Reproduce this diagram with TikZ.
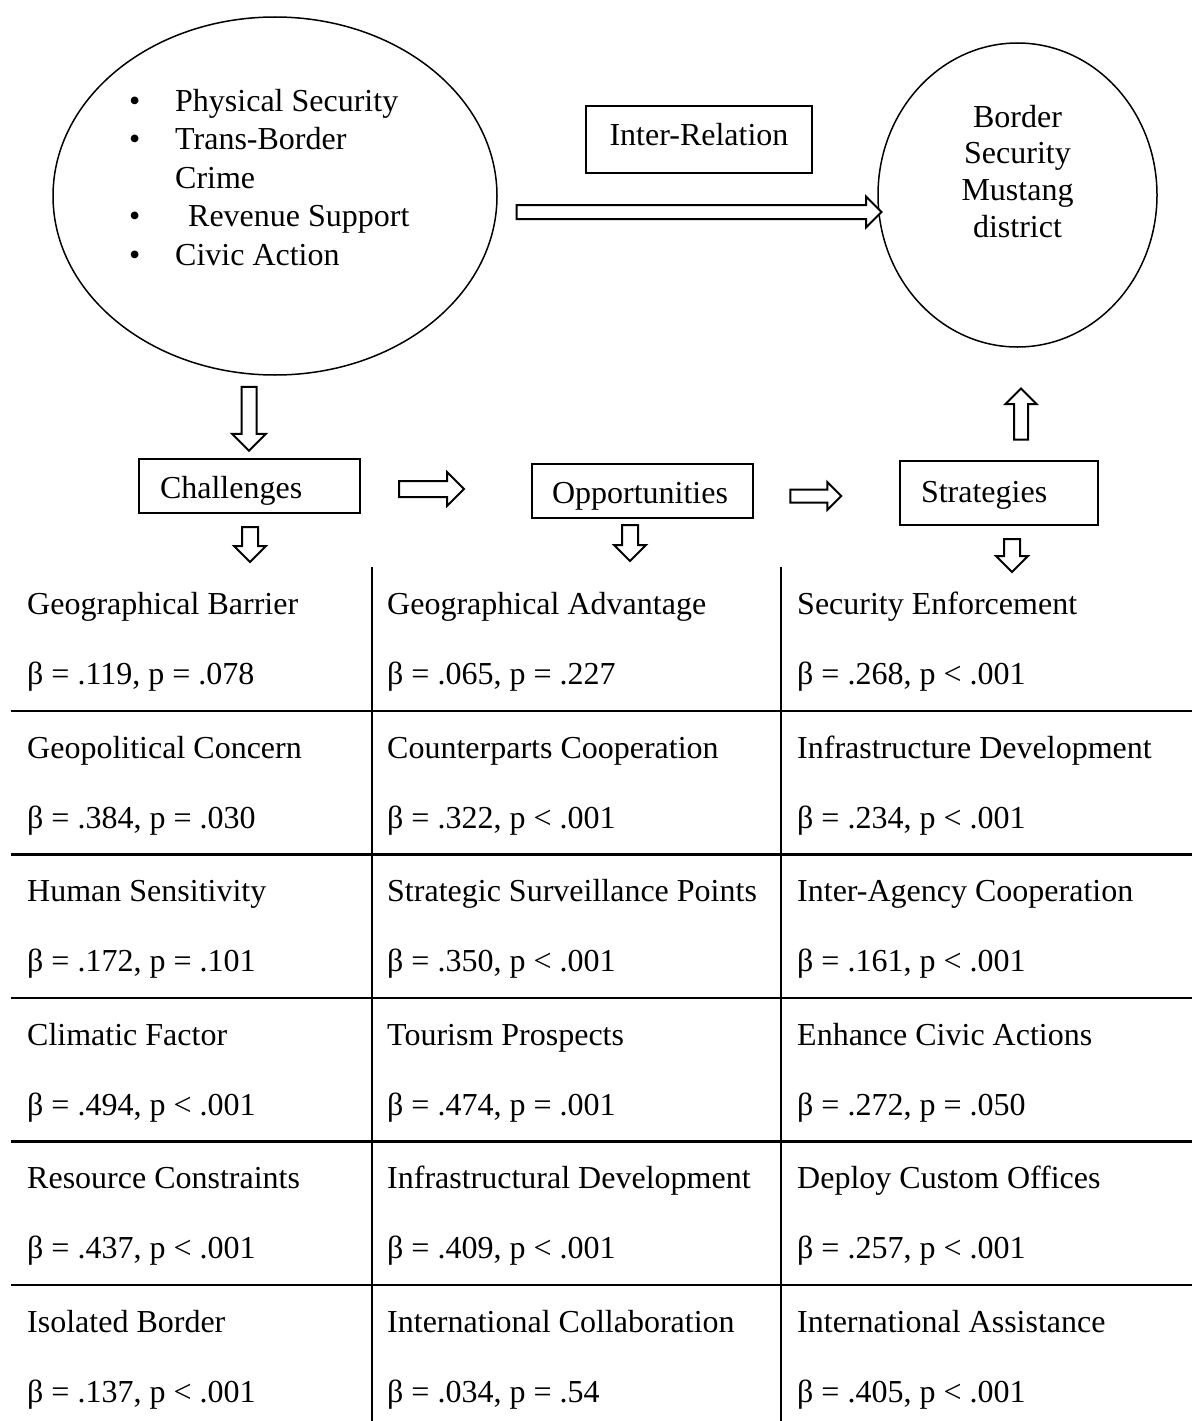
\documentclass[tikz,border=0pt]{standalone}
\usepackage{fontspec}
\setmainfont{Liberation Serif}
\usetikzlibrary{shapes.geometric,shapes.arrows}
\tikzset{
  txt/.style={font=\fontsize{32pt}{38.5pt}\selectfont, inner sep=0pt},
  oval/.style={ellipse, draw, line width=1.5pt, inner sep=0pt},
  lbox/.style={draw, line width=1.5pt, align=left, font=\fontsize{32pt}{38.5pt}\selectfont},
  barrow/.style n args={3}{single arrow, draw, line width=2pt, fill=white, inner sep=0pt,
    minimum width=1pt, minimum height=#1, text height=#2, text depth=0pt,
    single arrow head extend=#3},
  tline/.style={line width=2.3pt}
}
\begin{document}
\begin{tikzpicture}[x=1pt,y=-1pt]
\useasboundingbox (0,0) rectangle (1192,1421);

% top ellipses
\node[oval, minimum width=444pt, minimum height=358pt] (L) at (275,196) {};
\node[txt, anchor=base west] (Ltext) at (129,111) {%
  \begin{tabular}[t]{@{}p{46pt}@{}l@{}}
  \textbullet & Physical Security\\
  \textbullet & Trans-Border\\
              & Crime\\
  \textbullet & \hspace*{13pt}Revenue Support\\
  \textbullet & Civic Action
  \end{tabular}};

\node[oval, minimum width=279pt, minimum height=304pt] (R) at (1017.5,195) {};
\node[txt, anchor=base] (Rtext) at (1017.5,127) {%
  \fontsize{32pt}{36.7pt}\selectfont
  \begin{tabular}[t]{@{}c@{}}Border\\Security\\Mustang\\district\end{tabular}};

\node[draw, line width=1.5pt, txt, minimum width=226pt, minimum height=67pt,
      text height=22pt, text depth=11pt] (IR) at (699,139.5) {Inter-Relation};

% boxes
\node[lbox, minimum height=54pt, inner xsep=21pt, text width=179pt,
      text height=24pt, text depth=0pt] (Ch) at (249.5,486) {Challenges};
\node[lbox, minimum height=54pt, inner xsep=20pt, text width=181pt,
      text height=24pt, text depth=0pt] (Op) at (642.5,491) {Opportunities};
\node[lbox, minimum height=64pt, inner xsep=21pt, text width=156pt,
      text height=18pt, text depth=0pt] (St) at (999,493) {Strategies};

% block arrows
\node[barrow={365pt}{12pt}{8.5pt}] (a1) at (695.5,212) {};
\node[barrow={64pt}{13pt}{9.5pt}, rotate=-90] (a2) at (249,415) {};
\node[barrow={65pt}{14pt}{9pt}] (a3) at (427.5,489) {};
\node[barrow={51pt}{11pt}{7.5pt}] (a4) at (812.5,496) {};
\node[barrow={35pt}{14pt}{8pt}, rotate=-90] (a5) at (250,540.5) {};
\node[barrow={36pt}{14pt}{8pt}, rotate=-90] (a6) at (630,539) {};
\node[barrow={33pt}{14pt}{8pt}, rotate=-90] (a7) at (1012,551.5) {};
\node[barrow={51pt}{12pt}{8.5pt}, rotate=90] (a8) at (1021,417.5) {};

% table lines
\foreach \yy in {711,854.5,998,1141.5,1285}
  \draw[tline] (11,\yy) -- (1192,\yy);
\draw[tline] (372,567) -- (372,1421);
\draw[tline] (781,567) -- (781,1421);

% table text
\foreach \k/\a/\b/\c/\d/\e/\f in {
 1/Geographical Barrier/{β = .119, p = .078}/Geographical Advantage/{β = .065, p = .227}/Security Enforcement/{β = .268, p < .001},
 2/Geopolitical Concern/{β = .384, p = .030}/Counterparts Cooperation/{β = .322, p < .001}/Infrastructure Development/{β = .234, p < .001},
 3/Human Sensitivity/{β = .172, p = .101}/Strategic Surveillance Points/{β = .350, p < .001}/Inter-Agency Cooperation/{β = .161, p < .001},
 4/Climatic Factor/{β = .494, p < .001}/Tourism Prospects/{β = .474, p = .001}/Enhance Civic Actions/{β = .272, p = .050},
 5/Resource Constraints/{β = .437, p < .001}/Infrastructural Development/{β = .409, p < .001}/Deploy Custom Offices/{β = .257, p < .001},
 6/Isolated Border/{β = .137, p < .001}/International Collaboration/{β = .034, p = .54}/International Assistance/{β = .405, p < .001}}
{
  \pgfmathsetmacro\ytop{567.5+143.5*(\k-1)}
  \node[txt, anchor=base west] (n1\k) at (27,\ytop+47) {\a};
  \node[txt, anchor=base west] (b1\k) at (27,\ytop+117) {\b};
  \node[txt, anchor=base west] (n2\k) at (387,\ytop+47) {\c};
  \node[txt, anchor=base west] (b2\k) at (387,\ytop+117) {\d};
  \node[txt, anchor=base west] (n3\k) at (797,\ytop+47) {\e};
  \node[txt, anchor=base west] (b3\k) at (797,\ytop+117) {\f};
}
\end{tikzpicture}
\end{document}
